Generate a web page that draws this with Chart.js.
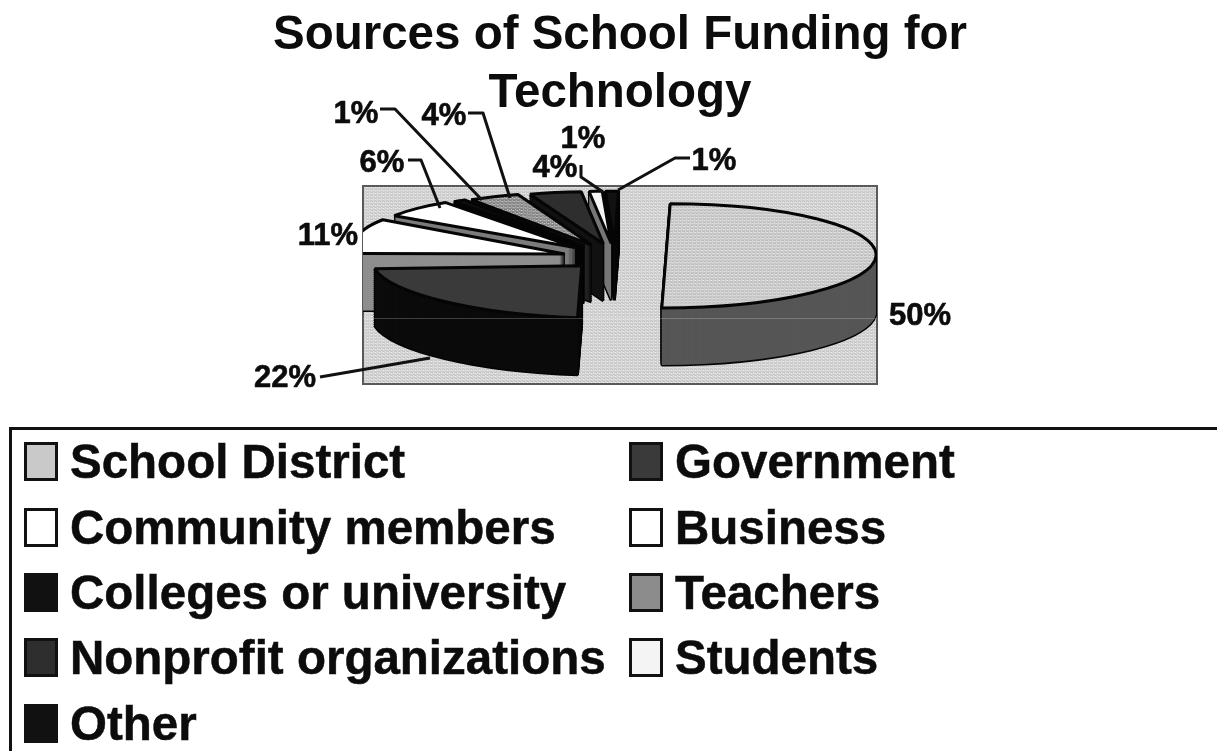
<!DOCTYPE html>
<html>
<head>
<meta charset="utf-8">
<script src="https://cdn.jsdelivr.net/npm/chart.js@4"></script>
<style>
  html, body { margin: 0; padding: 0; background: #fff; overflow: hidden; width: 1217px; height: 751px; }
  #wrap { position: absolute; left: 0; top: 0; width: 1240px; height: 751px; }
  #legend {
    position: absolute; left: 9px; top: 427px; width: 1300px; height: 400px;
    border: 3px solid #111; box-sizing: border-box; padding: 0 0 0 12px;
    display: grid; grid-template-columns: 605px auto; grid-auto-rows: 65.4px;
    font: bold 47.5px "Liberation Sans", Arial, sans-serif; color: #0c0c0c;
    -webkit-text-stroke: 0.5px #0c0c0c;
  }
  #legend .item { display: flex; align-items: center; white-space: nowrap; margin-top: -2px; }
  #legend .swatch { width: 34px; height: 39px; box-sizing: border-box; border: 3px solid #111; margin-right: 12px; flex: none; }
</style>
</head>
<body>
<div id="wrap"><canvas id="fundingChart" width="1240" height="751"></canvas></div>
<div id="legend"></div>
<script>
const categories = ['School District', 'Government', 'Community members', 'Business',
  'Colleges or university', 'Teachers', 'Nonprofit organizations', 'Students', 'Other'];
const shares = [50, 22, 11, 6, 1, 4, 4, 1, 1];

const topColors = ['#c9c9c9', '#3a3a3a', '#ffffff', '#ffffff', '#111111', '#8c8c8c', '#2e2e2e', '#f4f4f4', '#111111'];
const sideColors = ['#565656', '#0b0b0b', '#8e8e8e', '#7c7c7c', '#060606', '#232323', '#121212', '#777777', '#0a0a0a'];

// where each percentage sits, same order as the categories
const labelSpots = [[920, 316], [285, 378], [328, 236], [382, 163], [356, 114], [444, 116], [555, 168], [583, 139], [714, 161]];
const leaderLines = [
  null,
  [[320, 377], [430, 358]],
  null,
  [[408, 160], [421, 160], [440, 208]],
  [[380, 109], [395, 109], [482, 200]],
  [[468, 113], [483, 113], [510, 198]],
  null,
  [[581, 165], [581, 177], [603, 192]],
  [[690, 158], [675, 158], [618, 190]]
];

const plotBox = { left: 363, top: 186, width: 514, height: 198 };
const squash = 0.248;
const skew = -0.02;
const depth = 57;
const explode = 51;
const pieShift = -5;
const leftLean = 0.05;
// back of the pie first, the front slices go over it
const drawOrder = [8, 7, 6, 5, 4, 3, 2, 1, 0];

// small repeating tile for the printed grey fills; rowHeight stretches it for the squashed faces
function halftone(colors, rowHeight) {
  const tile = document.createElement('canvas');
  tile.width = 4;
  tile.height = colors.length * rowHeight;
  const g = tile.getContext('2d');
  colors.forEach((c, row) => {
    g.fillStyle = c;
    g.fillRect(0, row * rowHeight, 4, rowHeight);
  });
  g.fillStyle = 'rgba(255,255,255,0.5)';
  g.fillRect(1, 0, 1, rowHeight);
  g.fillRect(3, rowHeight, 1, rowHeight);
  return g.createPattern(tile, 'repeat');
}

const plotFill = halftone(['#c6c6c6', '#d8d8d8', '#cfcfcf'], 1);
const faceFills = topColors.slice();
faceFills[0] = halftone(['#bcbcbc', '#d2d2d2', '#c8c8c8'], 4);
faceFills[5] = halftone(['#7e7e7e', '#9a9a9a', '#8c8c8c'], 4);

// draws one arc in the tilted plane, pulled out from the centre and dropped down by y pixels
function drawFlat(ctx, arc, y, fill, borderWidth) {
  const saved = arc.options;
  const mid = (arc.startAngle + arc.endAngle) / 2;
  const ex = Math.cos(mid) * explode;
  const ey = Math.sin(mid) * explode;
  // slices on the left sit a little flatter than the right half
  const lean = leftLean * Math.max(0, -Math.cos(mid));
  arc.options = Object.assign({}, saved, { backgroundColor: fill, borderColor: '#050505', borderWidth: borderWidth });
  ctx.save();
  ctx.translate(arc.x + pieShift + ex + skew * ey, arc.y + y + squash * ey);
  ctx.transform(1, lean, skew, squash, 0, 0);
  ctx.translate(-arc.x, -arc.y);
  arc.draw(ctx);
  ctx.restore();
  arc.options = saved;
}

const tiltedPie = {
  id: 'tiltedPie',
  beforeDatasetsDraw(chart) {
    const ctx = chart.ctx;
    const arcs = chart.getDatasetMeta(0).data;

    ctx.save();
    ctx.fillStyle = plotFill;
    ctx.fillRect(plotBox.left, plotBox.top, plotBox.width, plotBox.height);
    ctx.strokeStyle = '#5a5a5a';
    ctx.lineWidth = 2;
    ctx.strokeRect(plotBox.left, plotBox.top, plotBox.width, plotBox.height);
    ctx.beginPath();
    ctx.rect(plotBox.left, plotBox.top, plotBox.width, plotBox.height);
    ctx.clip();

    // keep the outline even, the squash would otherwise thin it
    const stroke = ctx.stroke;
    ctx.stroke = function () {
      ctx.save();
      ctx.setTransform(1, 0, 0, 1, 0, 0);
      stroke.call(ctx);
      ctx.restore();
    };
    drawOrder.forEach(i => {
      const arc = arcs[i];
      for (let y = depth; y > 0; y -= 2) drawFlat(ctx, arc, y, sideColors[i], 3);
      for (let y = depth; y > 0; y--) drawFlat(ctx, arc, y, sideColors[i], 0);
      drawFlat(ctx, arc, 0, faceFills[i], 3);
    });
    delete ctx.stroke;

    // faint rule across the plot
    ctx.fillStyle = 'rgba(255,255,255,0.22)';
    ctx.fillRect(plotBox.left, 318, plotBox.width, 1);
    ctx.restore();
    return false;
  },
  afterDraw(chart) {
    const ctx = chart.ctx;
    ctx.save();
    ctx.strokeStyle = '#111';
    ctx.lineWidth = 3;
    ctx.lineJoin = 'round';
    leaderLines.forEach(line => {
      if (!line) return;
      ctx.beginPath();
      line.forEach((p, n) => n ? ctx.lineTo(p[0], p[1]) : ctx.moveTo(p[0], p[1]));
      ctx.stroke();
    });
    ctx.fillStyle = '#0c0c0c';
    ctx.strokeStyle = '#0c0c0c';
    ctx.lineWidth = 0.6;
    ctx.font = 'bold 31px "Liberation Sans", Arial, sans-serif';
    ctx.textAlign = 'center';
    ctx.textBaseline = 'middle';
    shares.forEach((v, i) => {
      ctx.fillText(v + '%', labelSpots[i][0], labelSpots[i][1]);
      ctx.strokeText(v + '%', labelSpots[i][0], labelSpots[i][1]);
    });
    ctx.restore();
  }
};

new Chart(document.getElementById('fundingChart'), {
  type: 'pie',
  data: {
    labels: categories,
    datasets: [{ data: shares, backgroundColor: topColors, borderColor: '#050505', borderWidth: 3 }]
  },
  options: {
    responsive: false,
    animation: false,
    events: [],
    radius: 210,
    layout: { padding: { left: 0, right: 0, top: 0, bottom: 367 } },
    plugins: {
      legend: { display: false },
      tooltip: { enabled: false },
      title: {
        display: true,
        text: ['Sources of School Funding for', 'Technology'],
        color: '#0c0c0c',
        font: { family: '"Liberation Sans", Arial, sans-serif', size: 47.5, weight: 'bold', lineHeight: 1.24 },
        padding: { top: 6, bottom: 4 }
      }
    }
  },
  plugins: [tiltedPie]
});

// legend runs in two columns, read across
const legend = document.getElementById('legend');
categories.forEach((name, i) => {
  const item = document.createElement('div');
  item.className = 'item';
  const swatch = document.createElement('span');
  swatch.className = 'swatch';
  swatch.style.background = topColors[i];
  item.appendChild(swatch);
  item.appendChild(document.createTextNode(name));
  legend.appendChild(item);
});
</script>
</body>
</html>
